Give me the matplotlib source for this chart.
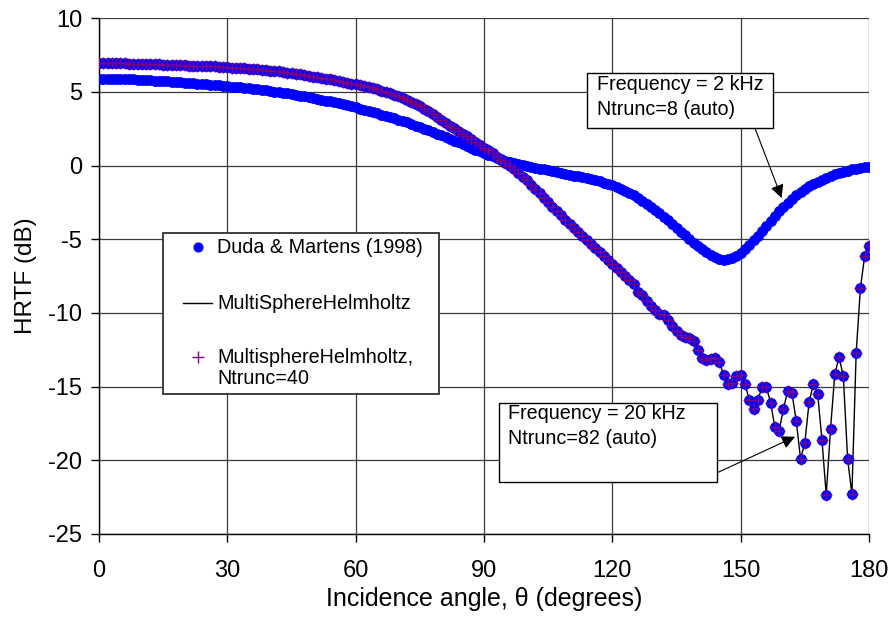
import numpy as np
import matplotlib
matplotlib.use("Agg")
import matplotlib.pyplot as plt
from matplotlib.lines import Line2D
from matplotlib.patches import Rectangle

plt.rcParams['font.family'] = ['Liberation Sans', 'DejaVu Sans']

# ---------------- data ----------------
angles = np.arange(0, 181)  # degrees, 1-degree steps

hrtf_2khz = [
    5.90, 5.90, 5.90, 5.89, 5.89, 5.88, 5.87, 5.86, 5.85, 5.84, 5.82,
    5.81, 5.79, 5.77, 5.76, 5.74, 5.72, 5.70, 5.68, 5.66, 5.64,
    5.62, 5.60, 5.57, 5.55, 5.52, 5.50, 5.47, 5.45, 5.42, 5.40,
    5.37, 5.34, 5.31, 5.28, 5.25, 5.22, 5.18, 5.15, 5.11, 5.07,
    5.03, 4.99, 4.95, 4.90, 4.86, 4.81, 4.76, 4.71, 4.66, 4.60,
    4.54, 4.48, 4.42, 4.36, 4.30, 4.23, 4.16, 4.09, 4.02, 3.95,
    3.87, 3.80, 3.72, 3.64, 3.56, 3.47, 3.39, 3.30, 3.21, 3.12,
    3.02, 2.93, 2.83, 2.72, 2.62, 2.51, 2.40, 2.29, 2.17, 2.06,
    1.94, 1.82, 1.70, 1.58, 1.46, 1.34, 1.22, 1.09, 0.97, 0.85,
    0.74, 0.63, 0.53, 0.43, 0.34, 0.26, 0.18, 0.11, 0.04, -0.02,
    -0.08, -0.14, -0.20, -0.26, -0.32, -0.38, -0.44, -0.50, -0.55, -0.61,
    -0.67, -0.73, -0.79, -0.85, -0.92, -0.99, -1.07, -1.15, -1.24, -1.34,
    -1.45, -1.57, -1.70, -1.85, -2.01, -2.18, -2.37, -2.57, -2.78, -3.00,
    -3.23, -3.47, -3.72, -3.97, -4.22, -4.48, -4.73, -4.98, -5.22, -5.45,
    -5.66, -5.86, -6.04, -6.19, -6.31, -6.38, -6.36, -6.26, -6.10, -5.90,
    -5.65, -5.37, -5.07, -4.75, -4.42, -4.08, -3.74, -3.41, -3.09, -2.79,
    -2.51, -2.25, -2.01, -1.79, -1.59, -1.41, -1.25, -1.10, -0.96, -0.83,
    -0.71, -0.60, -0.50, -0.41, -0.33, -0.26, -0.20, -0.15, -0.11, -0.08,
]

hrtf_20khz = [
    6.95, 6.95, 6.95, 6.95, 6.95, 6.94, 6.94, 6.93, 6.93, 6.92, 6.91,
    6.90, 6.89, 6.88, 6.87, 6.86, 6.85, 6.84, 6.82, 6.81, 6.80,
    6.79, 6.78, 6.77, 6.76, 6.75, 6.74, 6.73, 6.71, 6.70, 6.68,
    6.66, 6.64, 6.62, 6.60, 6.58, 6.56, 6.53, 6.51, 6.48, 6.45,
    6.42, 6.39, 6.35, 6.32, 6.28, 6.24, 6.20, 6.15, 6.10, 6.05,
    6.00, 5.95, 5.90, 5.85, 5.80, 5.75, 5.69, 5.63, 5.57, 5.51,
    5.45, 5.39, 5.32, 5.25, 5.17, 5.09, 5.00, 4.91, 4.81, 4.71,
    4.60, 4.48, 4.34, 4.19, 4.03, 3.86, 3.68, 3.50, 3.31, 3.12,
    2.90, 2.72, 2.54, 2.36, 2.18, 1.99, 1.80, 1.61, 1.42, 1.23,
    1.03, 0.83, 0.62, 0.41, 0.20, -0.02, -0.25, -0.49, -0.74, -1.00,
    -1.29, -1.59, -1.89, -2.19, -2.49, -2.79, -3.09, -3.38, -3.67, -3.96,
    -4.24, -4.52, -4.80, -5.08, -5.35, -5.62, -5.89, -6.16, -6.43, -6.70,
    -6.96, -7.22, -7.48, -7.74, -8.00, -8.55, -8.75, -9.20, -9.50, -9.80,
    -10.05, -10.15, -10.45, -10.85, -11.25, -11.50, -11.65, -11.70, -11.90, -12.50,
    -13.05, -13.20, -13.15, -13.05, -13.30, -14.20, -14.85, -14.75, -14.30, -14.20,
    -14.80, -15.90, -16.55, -15.90, -15.05, -15.00, -16.10, -17.75, -18.00, -16.50,
    -15.30, -15.45, -17.35, -19.90, -18.80, -16.05, -14.80, -15.50, -18.60, -22.35,
    -17.90, -14.15, -13.00, -14.30, -19.90, -22.30, -12.70, -8.30, -6.10, -5.45,
]

x_ticks = [0, 30, 60, 90, 120, 150, 180]
y_ticks = [-25, -20, -15, -10, -5, 0, 5, 10]

legend_labels = ["Duda & Martens (1998)", "MultiSphereHelmholtz",
                 "MultisphereHelmholtz,\nNtrunc=40"]
note_2k = "Frequency = 2 kHz\nNtrunc=8 (auto)"
note_20k = "Frequency = 20 kHz\nNtrunc=82 (auto)"

# ---------------- figure ----------------
W, H = 894, 624
fig = plt.figure(figsize=(W / 100, H / 100), dpi=100)
ax = fig.add_axes([99 / W, 1 - 534 / H, 770 / W, (534 - 18.3) / H])

def fx(px):
    return px / W

def fy(py):
    return 1 - py / H

blue = '#0000FF'
purple = '#800080'

# MultiSphereHelmholtz line (both frequencies)
ax.plot(angles, hrtf_2khz, color='black', lw=1.0, zorder=3)
ax.plot(angles, hrtf_20khz, color='black', lw=1.0, zorder=3)
# Duda & Martens dots
ax.plot(angles, hrtf_2khz, ls='none', marker='o', ms=6.8, color=blue,
        mec=blue, zorder=4)
ax.plot(angles, hrtf_20khz, ls='none', marker='o', ms=6.8, color=blue,
        mec=blue, zorder=4)
# Ntrunc=40 plus markers (20 kHz)
ax.plot(angles, hrtf_20khz, ls='none', marker='+', ms=8.5, mew=1.0,
        color=purple, zorder=5)

ax.set_xlim(0, 180)
ax.set_ylim(-25, 10)
ax.set_xticks(x_ticks)
ax.set_yticks(y_ticks)
ax.set_xticklabels([str(v) for v in x_ticks])
ax.set_yticklabels([str(v) for v in y_ticks])
ax.grid(True, color='#3a3a3a', lw=0.9)
ax.set_axisbelow(True)
for s in ['top', 'right']:
    ax.spines[s].set_visible(False)
for s in ['left', 'bottom']:
    ax.spines[s].set_color('black')
    ax.spines[s].set_linewidth(1.0)
ax.tick_params(axis='both', direction='out', length=6, width=1.0,
               labelsize=17, colors='black')
ax.tick_params(axis='x', pad=13)
ax.tick_params(axis='y', pad=6)
ax.set_xlabel("Incidence angle, θ (degrees)", fontsize=18, labelpad=3)
ax.set_ylabel("HRTF (dB)", fontsize=17.5, labelpad=8)

# ---------------- legend (manual box) ----------------
fs_leg = 14.2
fig.add_artist(Rectangle((fx(163), fy(394)), fx(439) - fx(163), fy(233) - fy(394),
                         transform=fig.transFigure, facecolor='white',
                         edgecolor='#303030', lw=1.3, zorder=10))
fig.add_artist(Line2D([fx(198)], [fy(247)], marker='o', ms=6.3, color=blue,
                      ls='none', transform=fig.transFigure, zorder=11))
fig.add_artist(Line2D([fx(183), fx(212)], [fy(303), fy(303)], color='black',
                      lw=1.0, transform=fig.transFigure, zorder=11))
fig.add_artist(Line2D([fx(198)], [fy(357)], marker='+', ms=9, mew=1.0,
                      color=purple, ls='none', transform=fig.transFigure, zorder=11))
fig.text(fx(217), fy(248), legend_labels[0], fontsize=fs_leg, va='center',
         ha='left', zorder=12)
fig.text(fx(217), fy(303), legend_labels[1], fontsize=fs_leg, va='center',
         ha='left', zorder=12)
fig.text(fx(217), fy(368), legend_labels[2], fontsize=fs_leg, va='center',
         ha='left', linespacing=1.13, zorder=12)

# ---------------- annotations ----------------
fig.add_artist(Rectangle((fx(587), fy(128.3)), fx(773) - fx(587), fy(72.7) - fy(128.3),
                         transform=fig.transFigure, facecolor='white',
                         edgecolor='black', lw=1.0, zorder=10))
fig.text(fx(597), fy(97), note_2k, fontsize=fs_leg, va='center', ha='left',
         linespacing=1.42, zorder=12)
ax.annotate("", xy=(159.6, -2.2), xycoords='data',
            xytext=(fx(755), fy(128.3)), textcoords='figure fraction',
            arrowprops=dict(arrowstyle='-|>', color='black', lw=0.8,
                            mutation_scale=20, shrinkA=0, shrinkB=0),
            zorder=9, annotation_clip=False)

fig.add_artist(Rectangle((fx(499.3), fy(482.3)), fx(717.3) - fx(499.3), fy(402.7) - fy(482.3),
                         transform=fig.transFigure, facecolor='white',
                         edgecolor='black', lw=1.0, zorder=10))
fig.text(fx(508), fy(426), note_20k, fontsize=fs_leg, va='center', ha='left',
         linespacing=1.42, zorder=12)
ax.annotate("", xy=(162.7, -18.4), xycoords='data',
            xytext=(fx(717.3), fy(472.7)), textcoords='figure fraction',
            arrowprops=dict(arrowstyle='-|>', color='black', lw=0.8,
                            mutation_scale=20, shrinkA=0, shrinkB=0),
            zorder=9, annotation_clip=False)

fig.savefig("out.png", dpi=100, facecolor='white')
